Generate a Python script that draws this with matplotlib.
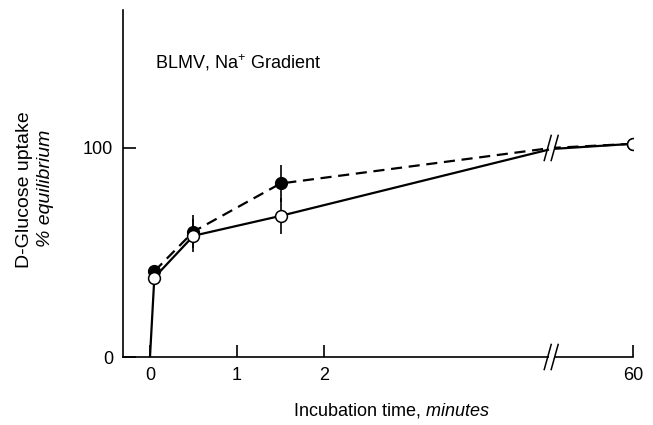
import matplotlib.pyplot as plt
from matplotlib import rcParams

rcParams['font.family'] = ['Liberation Sans', 'DejaVu Sans']
rcParams['mathtext.fontset'] = 'custom'
rcParams['mathtext.rm'] = 'Liberation Sans'
rcParams['mathtext.it'] = 'Liberation Sans:italic'

# time points (minutes) and % equilibrium uptake
times = [0.05, 0.5, 1.5, 60]
filled_y = [41, 60, 83, 102]
filled_err = [0, 8, 9, 0]
open_y = [38, 58, 67.5, 102]
open_err = [0, 8, 8.5, 0]
# level of each curve where it meets the axis break
break_filled = 100
break_open = 99.5

xtick_vals = [0, 1, 2, 60]
ytick_vals = [0, 100]

# broken x axis: 0-2 min linear, then a jump to 60
BREAK = 4.61
SIXTY = 5.55

def xmap(t):
    return t if t <= 2 else SIXTY

fig = plt.figure(figsize=(6.53, 4.25), dpi=100)
ax = fig.add_axes([123/653, 1 - 357/425, (633 - 123)/653, (357 - 10)/425])

xs = [xmap(t) for t in times]

# lines through the break point
lx = [0] + xs[:3] + [BREAK] + xs[3:]
ax.plot(lx[1:], filled_y[:3] + [break_filled] + filled_y[3:], color='black', lw=1.6,
        dashes=(5, 3), zorder=2)
ax.plot(lx, [0] + open_y[:3] + [break_open] + open_y[3:], color='black', lw=1.6, zorder=2)

ax.errorbar(xs, filled_y, yerr=filled_err, fmt='o', color='black', mfc='black',
            ms=8.5, elinewidth=1.2, capsize=0, zorder=3)
ax.errorbar(xs, open_y, yerr=open_err, fmt='o', color='black', mfc='white',
            ms=8.5, mew=1.1, elinewidth=1.2, capsize=0, zorder=4)

ax.set_xlim(-0.31, SIXTY)
ax.set_ylim(0, 166)
ax.spines['top'].set_visible(False)
ax.spines['right'].set_visible(False)
ax.spines['left'].set_linewidth(1.2)
ax.spines['bottom'].set_linewidth(1.2)

ax.set_xticks([xmap(v) for v in xtick_vals])
ax.set_xticklabels([str(v) for v in xtick_vals])
ax.set_yticks(ytick_vals)
ax.tick_params(direction='in', length=9, width=1.2, labelsize=13, pad=7)

# break marks on axis and on the curves
for yb, h in [(0, 6), (100, 6)]:
    ax.plot([BREAK - 0.03, BREAK + 0.03], [yb, yb], color='white', lw=4,
            zorder=5, clip_on=False, solid_capstyle='butt')
    for dx in (-0.04, 0.04):
        ax.plot([BREAK + dx - 0.04, BREAK + dx + 0.04], [yb - h, yb + h], color='black',
                lw=1.1, zorder=6, clip_on=False)

ax.text(0.06, 141, 'BLMV, Na$^{+}$ Gradient', fontsize=13, ha='left', va='center')

fig.text(391/653, 1 - 411/425, 'Incubation time, $\\mathit{minutes}$', fontsize=13,
         ha='center', va='center')
fig.text(25/653, 0.555, 'D-Glucose uptake', rotation=90, fontsize=14, ha='center', va='center')
fig.text(46/653, 0.558, '% equilibrium', rotation=90, fontsize=14, ha='center', va='center',
         style='italic')

fig.savefig('out.png', dpi=100)
